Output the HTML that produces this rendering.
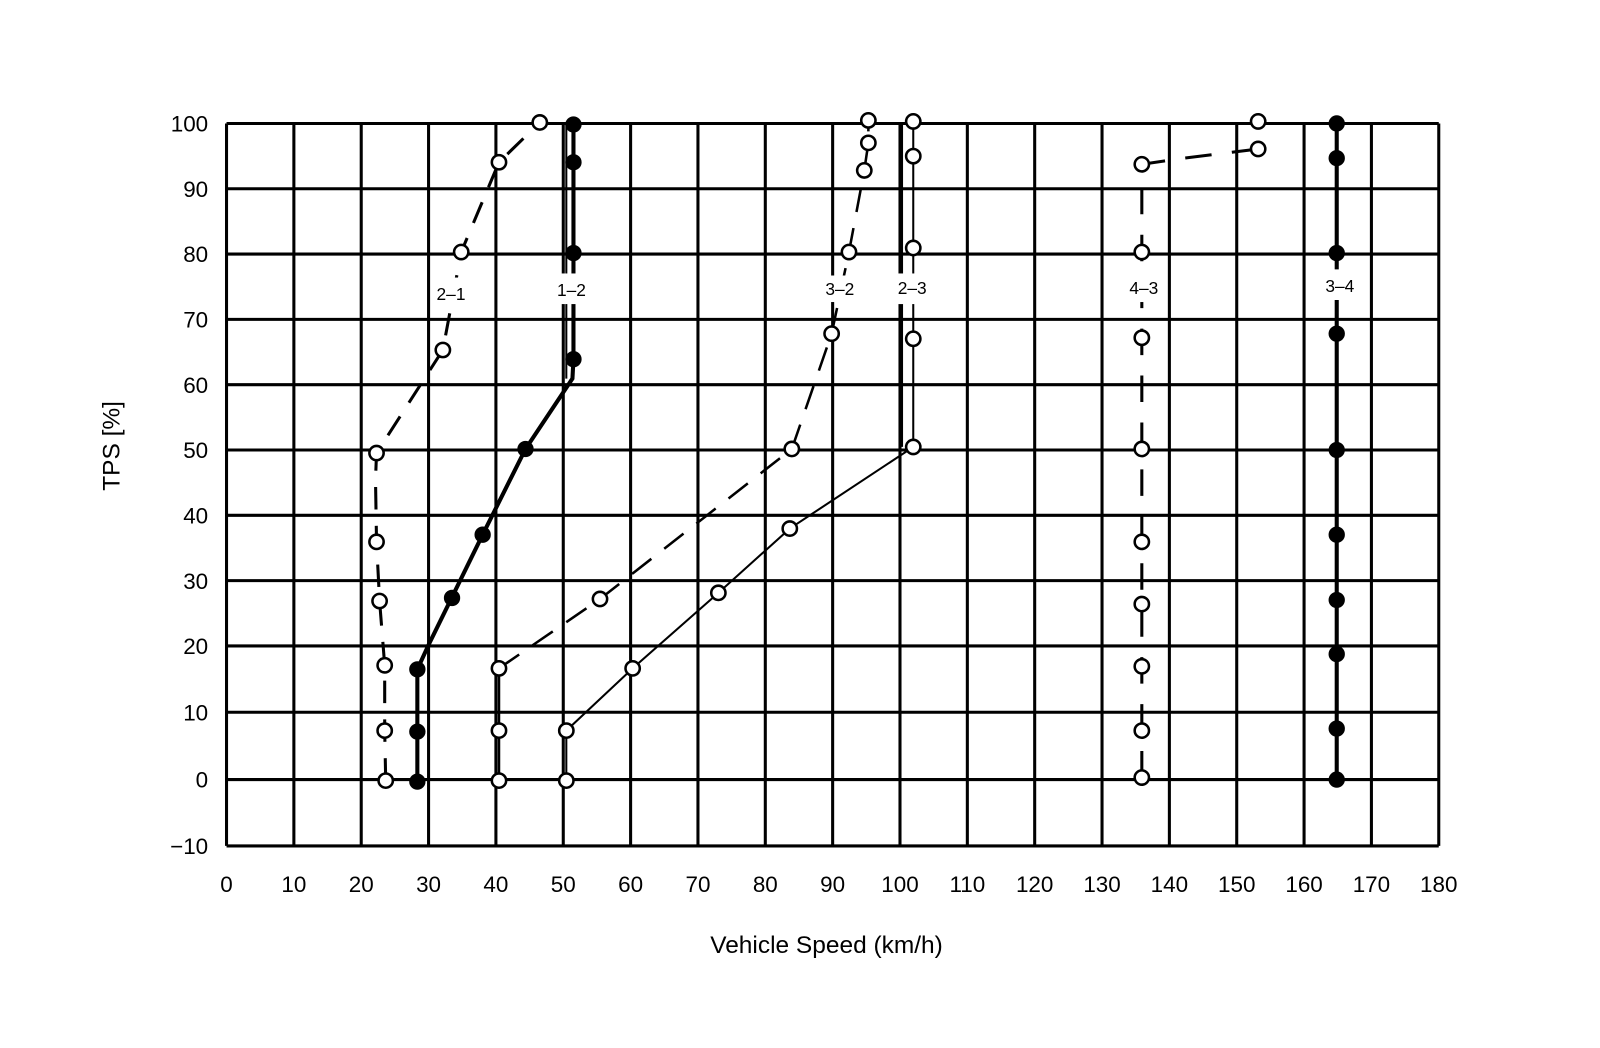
<!DOCTYPE html>
<html><head><style>html,body{margin:0;padding:0;background:#fff}svg{display:block}</style></head><body>
<svg width="1600" height="1048" viewBox="0 0 1600 1048" xmlns="http://www.w3.org/2000/svg" font-family="Liberation Sans, sans-serif">
<rect width="1600" height="1048" fill="#fff"/>
<g transform="scale(1.0204)">
<g stroke="#000" stroke-width="3" fill="none">
<path d="M222 121V829M288 121V829M354 121V829M420 121V829M486 121V829M552 121V829M618 121V829M684 121V829M750 121V829M816 121V829M882 121V829M948 121V829M1014 121V829M1080 121V829M1146 121V829M1212 121V829M1278 121V829M1344 121V829M1410 121V829"/>
<path d="M222 121H1410M222 185H1410M222 249H1410M222 313H1410M222 377H1410M222 441H1410M222 505H1410M222 569H1410M222 633H1410M222 698H1410M222 764H1410M222 829H1410"/>
</g>
<g font-size="22" text-anchor="middle">
<text x="222" y="874">0</text><text x="288" y="874">10</text><text x="354" y="874">20</text><text x="420" y="874">30</text><text x="486" y="874">40</text><text x="552" y="874">50</text><text x="618" y="874">60</text><text x="684" y="874">70</text><text x="750" y="874">80</text><text x="816" y="874">90</text><text x="882" y="874">100</text><text x="948" y="874">110</text><text x="1014" y="874">120</text><text x="1080" y="874">130</text><text x="1146" y="874">140</text><text x="1212" y="874">150</text><text x="1278" y="874">160</text><text x="1344" y="874">170</text><text x="1410" y="874">180</text>
</g>
<g font-size="22" text-anchor="end">
<text x="204" y="129">100</text><text x="204" y="193">90</text><text x="204" y="257">80</text><text x="204" y="321">70</text><text x="204" y="385">60</text><text x="204" y="449">50</text><text x="204" y="513">40</text><text x="204" y="577">30</text><text x="204" y="641">20</text><text x="204" y="706">10</text><text x="204" y="772">0</text><text x="204" y="837">−10</text>
</g>
<text x="810" y="934" font-size="24" text-anchor="middle">Vehicle Speed (km/h)</text>
<text transform="translate(117,437) rotate(-90)" font-size="24" text-anchor="middle">TPS [%]</text>
<g stroke="#000" fill="none">
<polyline stroke-width="3" stroke-dasharray="22 16" points="378,765 377,716 377,652 372,589 369,531 368,470 369,444 434,343 452,247 489,159 529,120"/>
<polyline stroke-width="4" points="409,766 409,656 420,632 473,524 515,440 561,371 562,352 562,121"/>
<path stroke-width="2" d="M555 371V121"/>
<polyline stroke-width="2.5" stroke-dasharray="24 16" points="489,655 588,587 776,440 815,327 832,247 847,167 851,140 851,118"/>
<path stroke-width="2.5" d="M489 765V655"/>
<polyline stroke-width="2" points="555,765 555,716 620,655 704,581 774,518 895,438 895,119"/>
<path stroke-width="2" d="M884 438V121"/>
<polyline stroke-width="3" stroke-dasharray="26 20" points="1119,762 1119,161 1160,155 1233,146 1233,119"/>
<path stroke-width="4" d="M1310 764V121"/>
</g>
<g fill="#fff" stroke="#000" stroke-width="2.5">
<circle cx="378" cy="765" r="7"/><circle cx="377" cy="716" r="7"/><circle cx="377" cy="652" r="7"/><circle cx="372" cy="589" r="7"/><circle cx="369" cy="531" r="7"/><circle cx="369" cy="444" r="7"/><circle cx="434" cy="343" r="7"/><circle cx="452" cy="247" r="7"/><circle cx="489" cy="159" r="7"/><circle cx="529" cy="120" r="7"/>
<circle cx="489" cy="765" r="7"/><circle cx="489" cy="716" r="7"/><circle cx="489" cy="655" r="7"/><circle cx="588" cy="587" r="7"/><circle cx="776" cy="440" r="7"/><circle cx="815" cy="327" r="7"/><circle cx="832" cy="247" r="7"/><circle cx="847" cy="167" r="7"/><circle cx="851" cy="140" r="7"/><circle cx="851" cy="118" r="7"/>
<circle cx="555" cy="765" r="7"/><circle cx="555" cy="716" r="7"/><circle cx="620" cy="655" r="7"/><circle cx="704" cy="581" r="7"/><circle cx="774" cy="518" r="7"/><circle cx="895" cy="438" r="7"/><circle cx="895" cy="332" r="7"/><circle cx="895" cy="243" r="7"/><circle cx="895" cy="153" r="7"/><circle cx="895" cy="119" r="7"/>
<circle cx="1119" cy="762" r="7"/><circle cx="1119" cy="716" r="7"/><circle cx="1119" cy="653" r="7"/><circle cx="1119" cy="592" r="7"/><circle cx="1119" cy="531" r="7"/><circle cx="1119" cy="440" r="7"/><circle cx="1119" cy="331" r="7"/><circle cx="1119" cy="247" r="7"/><circle cx="1119" cy="161" r="7"/><circle cx="1233" cy="146" r="7"/><circle cx="1233" cy="119" r="7"/>
</g>
<g fill="#000">
<circle cx="409" cy="766" r="8"/><circle cx="409" cy="717" r="8"/><circle cx="409" cy="656" r="8"/><circle cx="443" cy="586" r="8"/><circle cx="473" cy="524" r="8"/><circle cx="515" cy="440" r="8"/><circle cx="562" cy="352" r="8"/><circle cx="562" cy="248" r="8"/><circle cx="562" cy="159" r="8"/><circle cx="562" cy="122" r="8"/>
<circle cx="1310" cy="764" r="8"/><circle cx="1310" cy="714" r="8"/><circle cx="1310" cy="641" r="8"/><circle cx="1310" cy="588" r="8"/><circle cx="1310" cy="524" r="8"/><circle cx="1310" cy="441" r="8"/><circle cx="1310" cy="327" r="8"/><circle cx="1310" cy="248" r="8"/><circle cx="1310" cy="155" r="8"/><circle cx="1310" cy="121" r="8"/>
</g>
<g fill="#fff">
<rect x="422" y="272" width="40" height="26"/><rect x="540" y="268" width="40" height="30"/><rect x="803" y="270" width="40" height="26"/><rect x="874" y="268" width="40" height="30"/><rect x="1101" y="270" width="40" height="26"/><rect x="1293" y="264" width="40" height="30"/>
</g>
<g font-size="17" text-anchor="middle">
<text x="442" y="294">2–1</text><text x="560" y="290">1–2</text><text x="823" y="289">3–2</text><text x="894" y="288">2–3</text><text x="1121" y="288">4–3</text><text x="1313" y="286">3–4</text>
</g>
</g>
</svg>
</body></html>
